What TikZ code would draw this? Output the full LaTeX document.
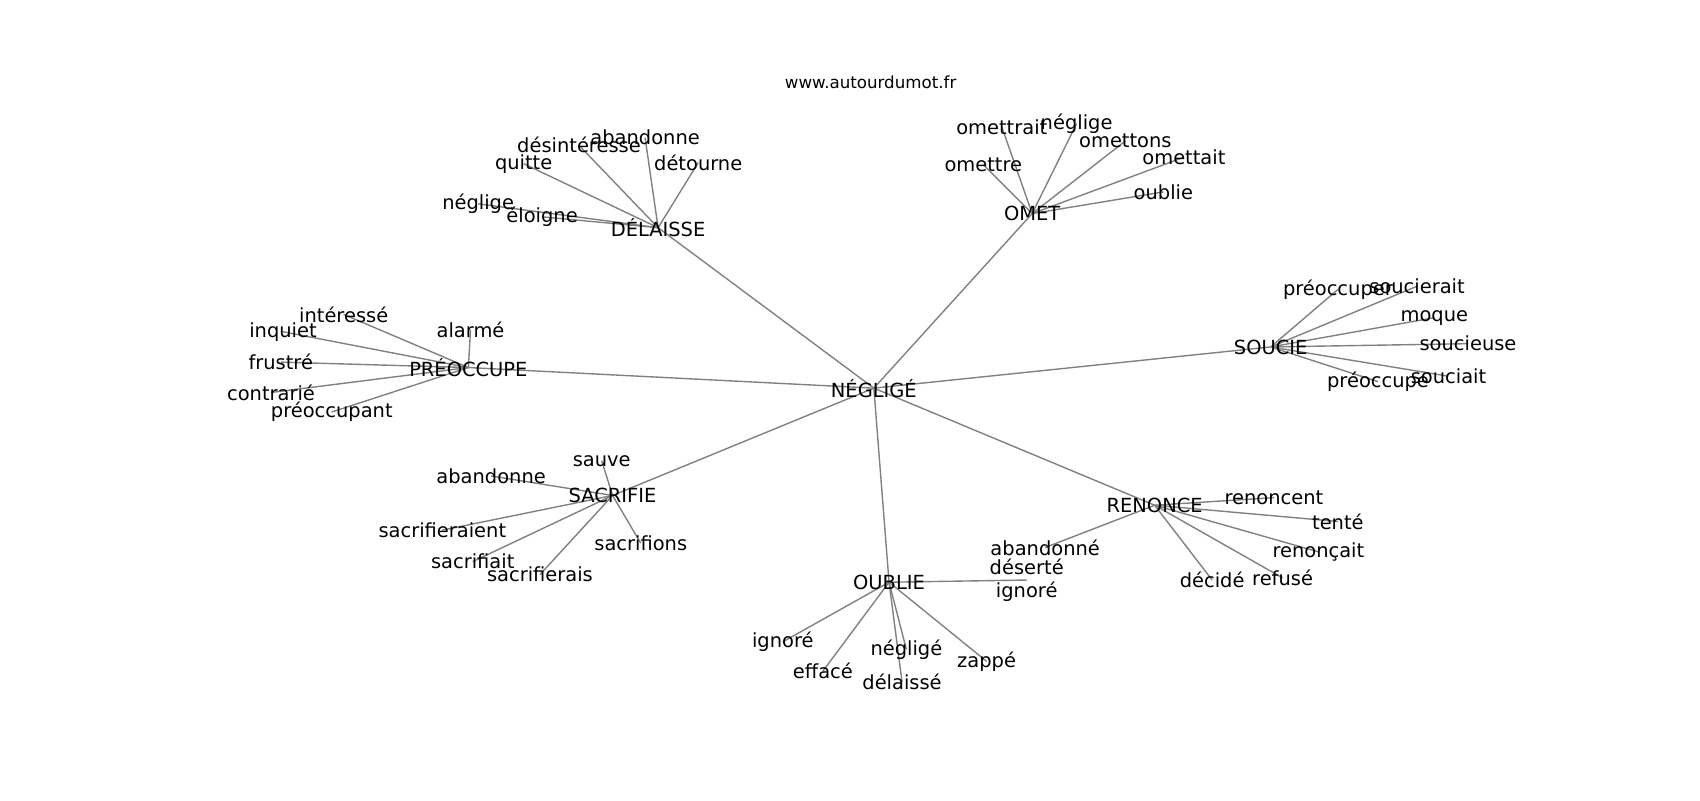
\documentclass[tikz,border=0pt]{standalone}
\usepackage{fontspec}
\setmainfont{DejaVu Sans}
\pgfdeclarelayer{bg}
\pgfsetlayers{bg,main}
\begin{document}
\begin{tikzpicture}[x=0.7806pt,y=-0.7806pt,
  w/.style={font=\fontsize{14}{16.8}\selectfont, inner sep=0pt, text=black, align=center},
  ttl/.style={font=\fontsize{12}{14}\selectfont, inner sep=0pt, text=black},
  edge/.style={draw={rgb,255:red,128;green,128;blue,128}, line width=1pt}]
\useasboundingbox (0,0) rectangle (1568,738);
\node[ttl] (title) at (803,76) {www.autourdumot.fr};
% hubs
\node[w] (c) at (806,358) {NÉGLIGÉ};
\node[w] (del) at (607,210) {DÉLAISSE};
\node[w] (omet) at (952,197) {OMET};
\node[w] (pre) at (432,339) {PRÉOCCUPE};
\node[w] (sou) at (1172,320) {SOUCIE};
\node[w] (sac) at (565,457) {SACRIFIE};
\node[w] (oub) at (820,537) {OUBLIE};
\node[w] (ren) at (1065,466) {RENONCE};
% DÉLAISSE
\node[w] (d1) at (441,188) {néglige};
\node[w] (d2) at (500,200) {éloigne};
\node[w] (d3) at (483,151) {quitte};
\node[w] (d4) at (534,134) {désintéresse};
\node[w] (d5) at (595,127) {abandonne};
\node[w] (d6) at (644,150) {détourne};
% OMET
\node[w] (o1) at (924,117) {omettrait};
\node[w] (o2) at (993,114) {néglige};
\node[w] (o3) at (1038,130) {omettons};
\node[w] (o4) at (1092,145) {omettait};
\node[w] (o5) at (1073,177) {oublie};
\node[w] (o6) at (907,152) {omettre};
% PRÉOCCUPE
\node[w] (p1) at (317,290) {intéressé};
\node[w] (p2) at (434,304) {alarmé};
\node[w] (p3) at (261,306) {inquiet};
\node[w] (p4) at (259,334) {frustré};
\node[w] (p5) at (250,362) {contrarié};
\node[w] (p6) at (306,380) {préoccupant};
% SOUCIE
\node[w] (s1) at (1234,267) {préoccuper};
\node[w] (s2) at (1307,264) {soucierait};
\node[w] (s3) at (1323,293) {moque};
\node[w] (s4) at (1354,317) {soucieuse};
\node[w] (s5) at (1336,347) {souciait};
\node[w] (s6) at (1271,352) {préoccupe};
% SACRIFIE
\node[w] (a1) at (555,425) {sauve};
\node[w] (a2) at (453,439) {abandonne};
\node[w] (a3) at (408,489) {sacrifieraient};
\node[w] (a4) at (436,518) {sacrifiait};
\node[w] (a5) at (498,530) {sacrifierais};
\node[w] (a6) at (591,501) {sacrifions};
% OUBLIE
\node[w] (u1) at (947,535) {déserté\\ignoré};
\node[w] (u2) at (722,592) {ignoré};
\node[w] (u3) at (759,619) {effacé};
\node[w] (u4) at (836,599) {négligé};
\node[w] (u5) at (832,629) {délaissé};
\node[w] (u6) at (910,610) {zappé};
% RENONCE
\node[w] (r1) at (964,505) {abandonné};
\node[w] (r2) at (1175,459) {renoncent};
\node[w] (r3) at (1234,481) {tenté};
\node[w] (r4) at (1216,509) {renonçait};
\node[w] (r5) at (1183,533) {refusé};
\node[w] (r6) at (1118,535) {décidé};
\begin{pgfonlayer}{bg}
\foreach \h in {del,omet,pre,sou,sac,oub,ren}
  \draw[edge] (c.center) -- (\h.center);
\foreach \i in {1,...,6} {
  \draw[edge] (del.center) -- (d\i.center);
  \draw[edge] (omet.center) -- (o\i.center);
  \draw[edge] (pre.center) -- (p\i.center);
  \draw[edge] (sou.center) -- (s\i.center);
  \draw[edge] (sac.center) -- (a\i.center);
  \draw[edge] (oub.center) -- (u\i.center);
  \draw[edge] (ren.center) -- (r\i.center);
}
\end{pgfonlayer}
\end{tikzpicture}
\end{document}
